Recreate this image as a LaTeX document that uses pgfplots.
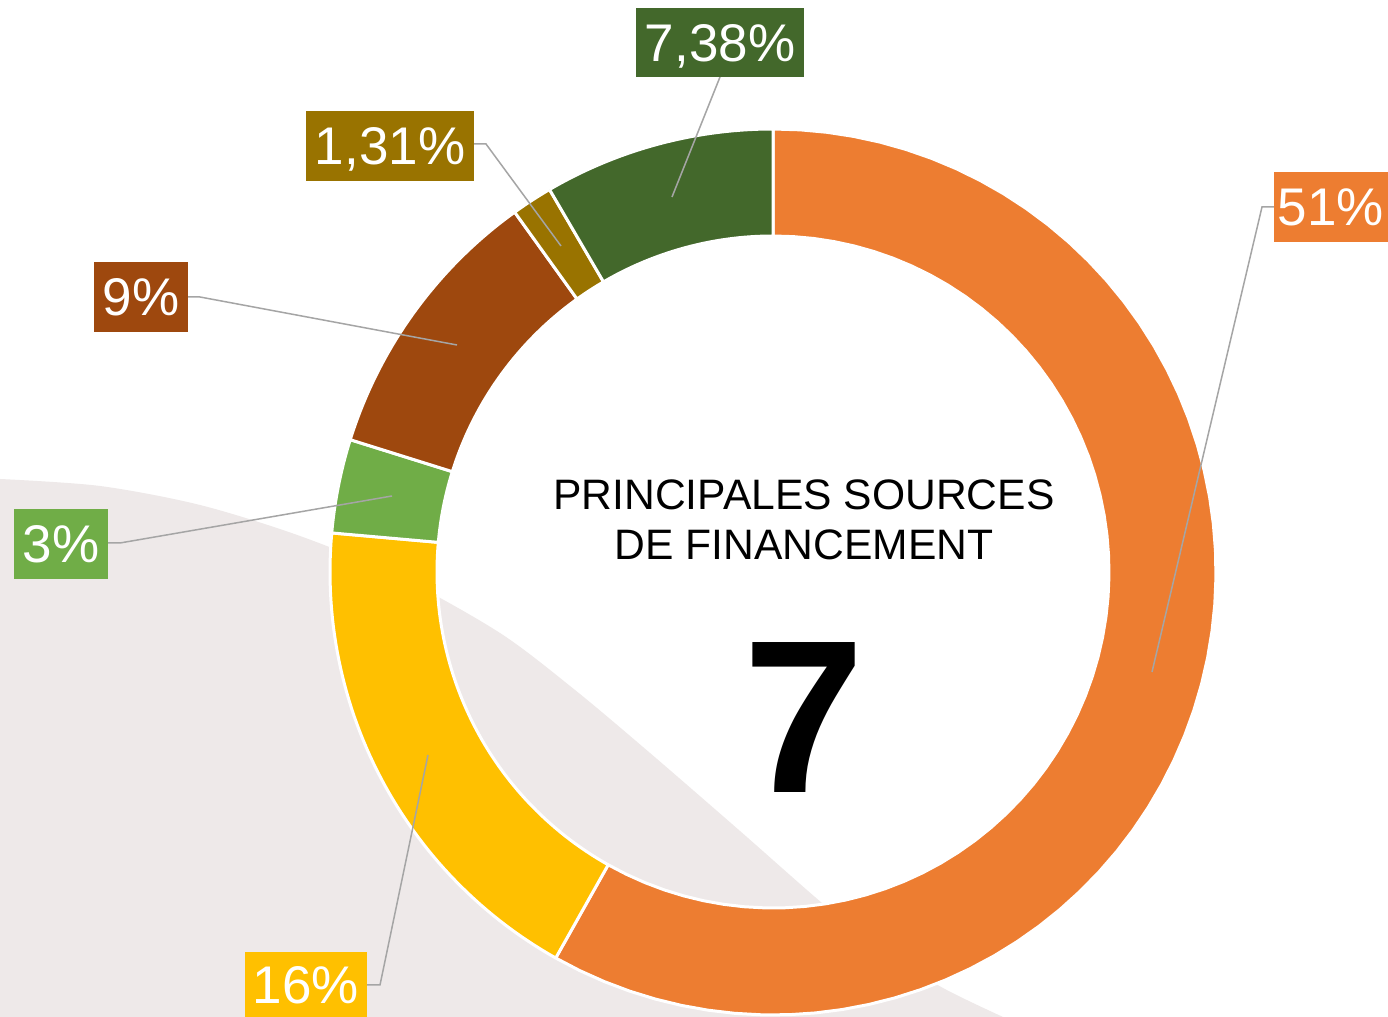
\documentclass[border=0pt]{standalone}
\usepackage{pgfplots}
\pgfplotsset{compat=1.18}
\usepackage{fontspec}
\setmainfont{Liberation Sans}
\definecolor{cOr}{HTML}{ED7D31}
\definecolor{cYe}{HTML}{FFC000}
\definecolor{cGr}{HTML}{70AD47}
\definecolor{cBr}{HTML}{9E480E}
\definecolor{cGo}{HTML}{997300}
\definecolor{cDg}{HTML}{43682B}
\definecolor{cBg}{RGB}{238,233,233}
\definecolor{cLd}{HTML}{A5A5A5}

% data values (labels shown on the chart)
\def\vA{51}\def\vB{16}\def\vC{3}\def\vD{9}\def\vE{1.31}\def\vF{7.38}
\pgfmathsetmacro\tot{\vA+\vB+\vC+\vD+\vE+\vF}
\pgfmathsetmacro\sc{360/\tot}
\pgfmathsetmacro\aA{90}
\pgfmathsetmacro\aB{\aA-\sc*\vA}
\pgfmathsetmacro\aC{\aB-\sc*\vB}
\pgfmathsetmacro\aD{\aC-\sc*\vC}
\pgfmathsetmacro\aE{\aD-\sc*\vD}
\pgfmathsetmacro\aF{\aE-\sc*\vE}
\pgfmathsetmacro\aG{\aF-\sc*\vF}

\newcommand\sector[3]{\addplot[fill=#3, draw=white, line width=1.5pt, line join=round, domain=0:4, samples=241, variable=\t] ({773+rr(\t)*cos(an(\t,#1,#2))}, {445+rr(\t)*sin(an(\t,#1,#2))});}

\begin{document}
\begin{tikzpicture}
\begin{axis}[
  x=0.5pt, y=0.5pt,
  xmin=0, xmax=1388, ymin=0, ymax=1017,
  hide axis, clip=true,
  declare function={
    an(\t,\st,\en)=(\t<1) ? (\st+(\en-\st)*\t) : ((\t<2) ? \en : ((\t<3) ? (\en-(\en-\st)*(\t-2)) : \st));
    rr(\t)=(\t<1) ? 443 : ((\t<2) ? (443-107*(\t-1)) : ((\t<3) ? 336 : (336+107*(\t-3))));
  },
]
% background
\addplot[fill=white, draw=none] coordinates {(0,0) (1388,0) (1388,1017) (0,1017)} -- cycle;
\addplot[fill=cBg, draw=none, smooth, tension=0.5] coordinates {
 (0,538) (100,531) (200,512) (300,481) (400,440) (500,384)
 (575,327) (650,264) (740,186) (822,114) (880,68) (943,29) (1003,0)}
 -- (axis cs:1003,-5) -- (axis cs:-5,-5) -- (axis cs:-5,538) -- cycle;
% donut
\sector{\aA}{\aB}{cOr}
\sector{\aB}{\aC}{cYe}
\sector{\aC}{\aD}{cGr}
\sector{\aD}{\aE}{cBr}
\sector{\aE}{\aF}{cGo}
\sector{\aF}{\aG}{cDg}
% leader lines
\addplot[cLd, line width=0.75pt] coordinates {(720,940) (672,820)};
\addplot[cLd, line width=0.75pt] coordinates {(474,873) (486,873) (561,771)};
\addplot[cLd, line width=0.75pt] coordinates {(188,720) (200,720) (457,672)};
\addplot[cLd, line width=0.75pt] coordinates {(108,474) (120,474) (392,521)};
\addplot[cLd, line width=0.75pt] coordinates {(367,32) (380,32) (428,262)};
\addplot[cLd, line width=0.75pt] coordinates {(1274,810) (1262,810) (1152,345)};
% labels
\tikzset{lab/.style={text=white, inner sep=0pt, text height=19pt, text depth=0pt, font=\fontsize{26.5}{30}\selectfont}}
\node[lab, fill=cDg, minimum width=84pt, minimum height=34.5pt] at (axis cs:720,974.5) {7,38\%};
\node[lab, fill=cGo, minimum width=84pt, minimum height=35pt] at (axis cs:390,871) {1,31\%};
\node[lab, fill=cBr, minimum width=47pt, minimum height=35pt] at (axis cs:141,720) {9\%};
\node[lab, fill=cGr, minimum width=47pt, minimum height=35pt] at (axis cs:61,473) {3\%};
\node[lab, fill=cYe, minimum width=61pt, minimum height=32.5pt] at (axis cs:306,32.5) {16\%};
\node[lab, fill=cOr, minimum width=57pt, minimum height=35pt] at (axis cs:1331,810) {51\%};
% centre text
\node[anchor=base, font=\fontsize{21.3}{25}\selectfont] at (axis cs:804,507) {PRINCIPALES SOURCES};
\node[anchor=base, font=\fontsize{21.3}{25}\selectfont] at (axis cs:804,457) {DE FINANCEMENT};
\node[anchor=base, font=\fontsize{109}{109}\selectfont\bfseries] at (axis cs:804,224) {7};
\end{axis}
\end{tikzpicture}
\end{document}
